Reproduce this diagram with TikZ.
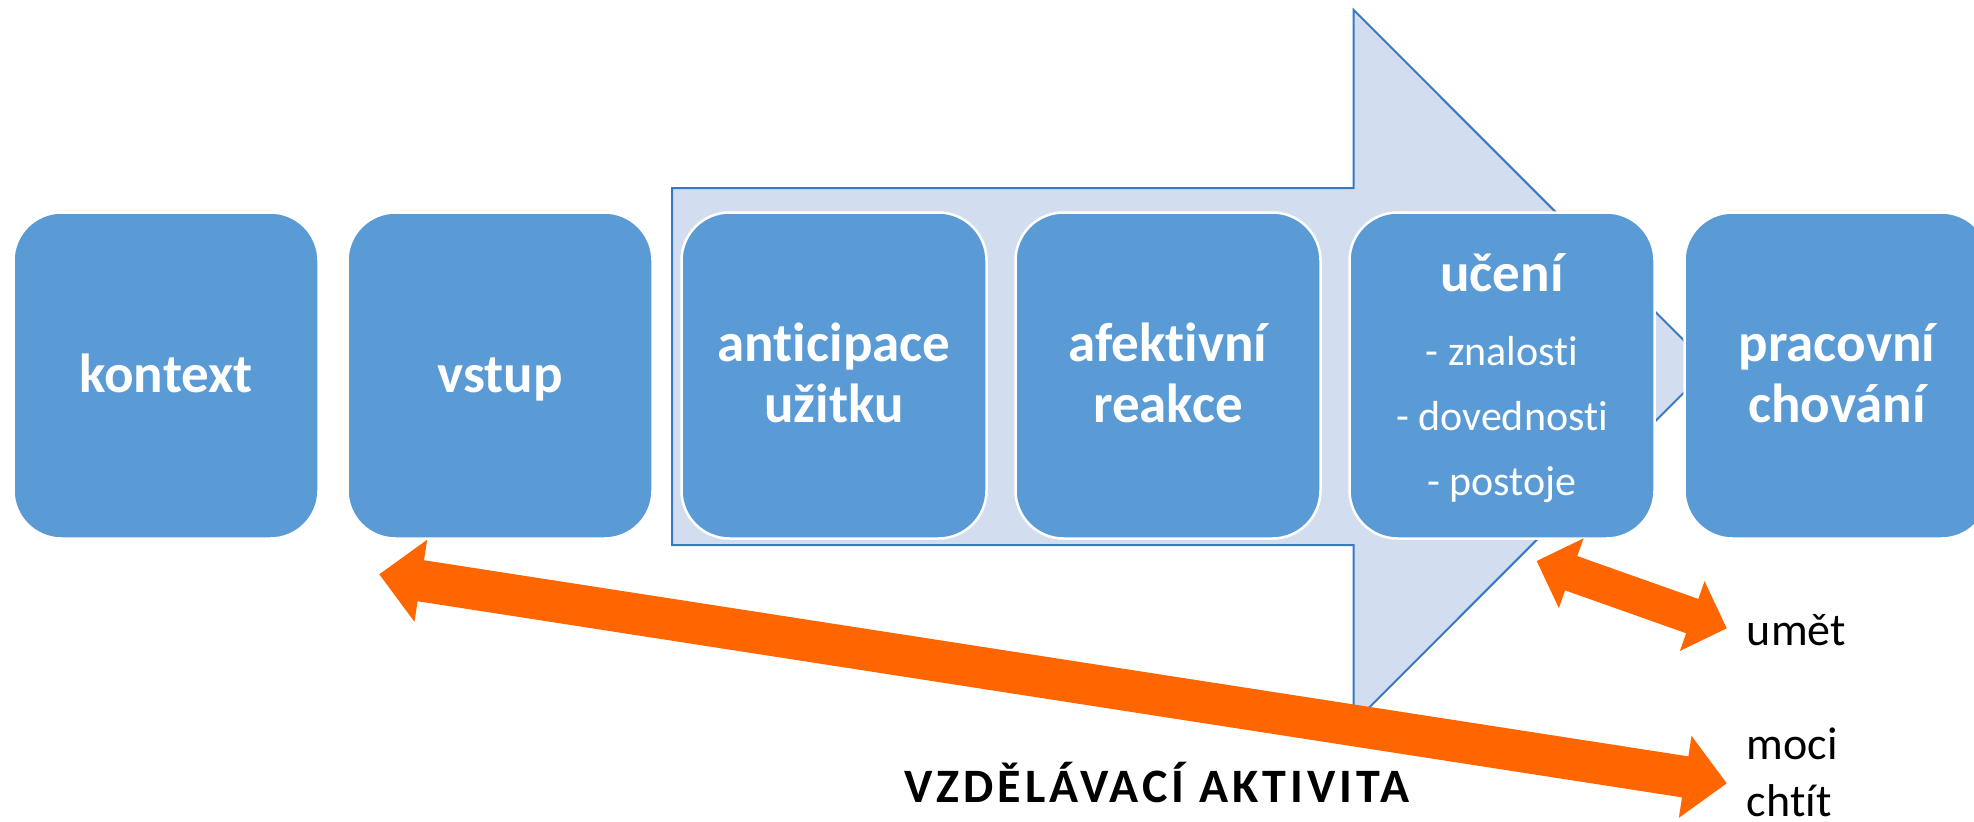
\documentclass[tikz,border=0pt]{standalone}
\usepackage{fontspec}
\setmainfont{Carlito}[Ligatures={NoCommon}]
\usetikzlibrary{calc}
\definecolor{boxblue}{HTML}{5B9BD5}
\definecolor{arrowfill}{HTML}{D2DEEF}
\definecolor{arrowline}{HTML}{3A79C1}
\definecolor{orangeA}{HTML}{FF6600}
\newcommand\fatarrow[5]{%
  \fill[orangeA] let \p1=(#1), \p2=(#2), \n1={atan2(\y2-\y1,\x2-\x1)} in
   (\p1) -- ($(\p1)+(\n1:#5)+(\n1+90:#4)$) -- ($(\p1)+(\n1:#5)+(\n1+90:#3)$)
   -- ($(\p2)+(\n1:-#5)+(\n1+90:#3)$) -- ($(\p2)+(\n1:-#5)+(\n1+90:#4)$) -- (\p2)
   -- ($(\p2)+(\n1:-#5)+(\n1-90:#4)$) -- ($(\p2)+(\n1:-#5)+(\n1-90:#3)$)
   -- ($(\p1)+(\n1:#5)+(\n1-90:#3)$) -- ($(\p1)+(\n1:#5)+(\n1-90:#4)$) -- cycle;
}
\tikzset{
  stage/.style={rectangle, rounded corners=48pt, fill=boxblue, draw=white,
    line width=2.5pt, minimum width=305pt, minimum height=326pt, inner sep=0pt},
  lbl/.style={text=white, font=\bfseries\fontsize{55}{60}\selectfont, anchor=base, inner sep=0pt},
  sub/.style={text=white, font=\fontsize{42}{50}\selectfont, anchor=base, inner sep=0pt},
  side/.style={text=black, font=\fontsize{46}{56}\selectfont, anchor=base west, inner sep=0pt},
  bigarrow/.style={fill=arrowfill, draw=arrowline, line width=2pt, line join=miter}
}
\begin{document}
\begin{tikzpicture}[x=1pt,y=-1pt]
\useasboundingbox (0,0) rectangle (1974,822);
\clip (0,0) rectangle (1974,822);
% big light-blue arrow
\draw[bigarrow] (672,188) -- (1353.7,188) -- (1353.7,10) -- (1710,366.5)
  -- (1353.7,723) -- (1353.7,545) -- (672,545) -- cycle;
% boxes
\node[stage] (kontext) at (166,375.5) {};
\node[stage] (vstup) at (500,375.5) {};
\node[stage] (antic) at (834,375.5) {};
\node[stage] (afekt) at (1168,375.5) {};
\node[stage] (uceni) at (1502,375.5) {};
\node[stage] (prac) at (1837,375.5) {};
% labels
\node[lbl] (tkontext) at ($(kontext.center)+(0,16.5)$) {kontext};
\node[lbl] (tvstup) at ($(vstup.center)+(0,16.5)$) {vstup};
\node[lbl] (tantic1) at ($(antic.center)+(0,-14.5)$) {anticipace};
\node[lbl] (tantic2) at ($(antic.center)+(0,46.5)$) {užitku};
\node[lbl] (tafekt1) at ($(afekt.center)+(0,-14.5)$) {afektivní};
\node[lbl] (tafekt2) at ($(afekt.center)+(0,46.5)$) {reakce};
\node[lbl] (tprac1) at ($(prac.center)+(0,-14.5)$) {pracovní};
\node[lbl] (tprac2) at ($(prac.center)+(0,46.5)$) {chování};
\node[lbl] (tuceni) at ($(uceni.center)+(0,-84)$) {učení};
\node[sub] (tzn) at ($(uceni.center)+(0,-9.8)$) {- znalosti};
\node[sub] (tdov) at ($(uceni.center)+(0,55.2)$) {- dovednosti};
\node[sub] (tpos) at ($(uceni.center)+(0,120.2)$) {- postoje};
% orange arrows
\coordinate (bigL) at (379.3,574.3);
\coordinate (bigR) at (1726.7,783.3);
\coordinate (smL) at (1536.7,561);
\coordinate (smR) at (1726.7,628.3);
\fatarrow{bigL}{bigR}{20.75pt}{41.5pt}{42pt}
\fatarrow{smL}{smR}{18.2pt}{37pt}{36.6pt}
% side texts
\node[side] (umet) at (1746.7,645) {umět};
\node[side] (moci) at (1746.7,759.3) {moci};
\node[side] (chtit) at (1746.7,816) {chtít};
\node[anchor=base, inner sep=0pt, font=\bfseries\fontsize{48}{56}\selectfont\addfontfeature{LetterSpace=8.3}] (activity) at (1157,802.3) {VZDĚLÁVACÍ AKTIVITA};
\end{tikzpicture}
\end{document}
